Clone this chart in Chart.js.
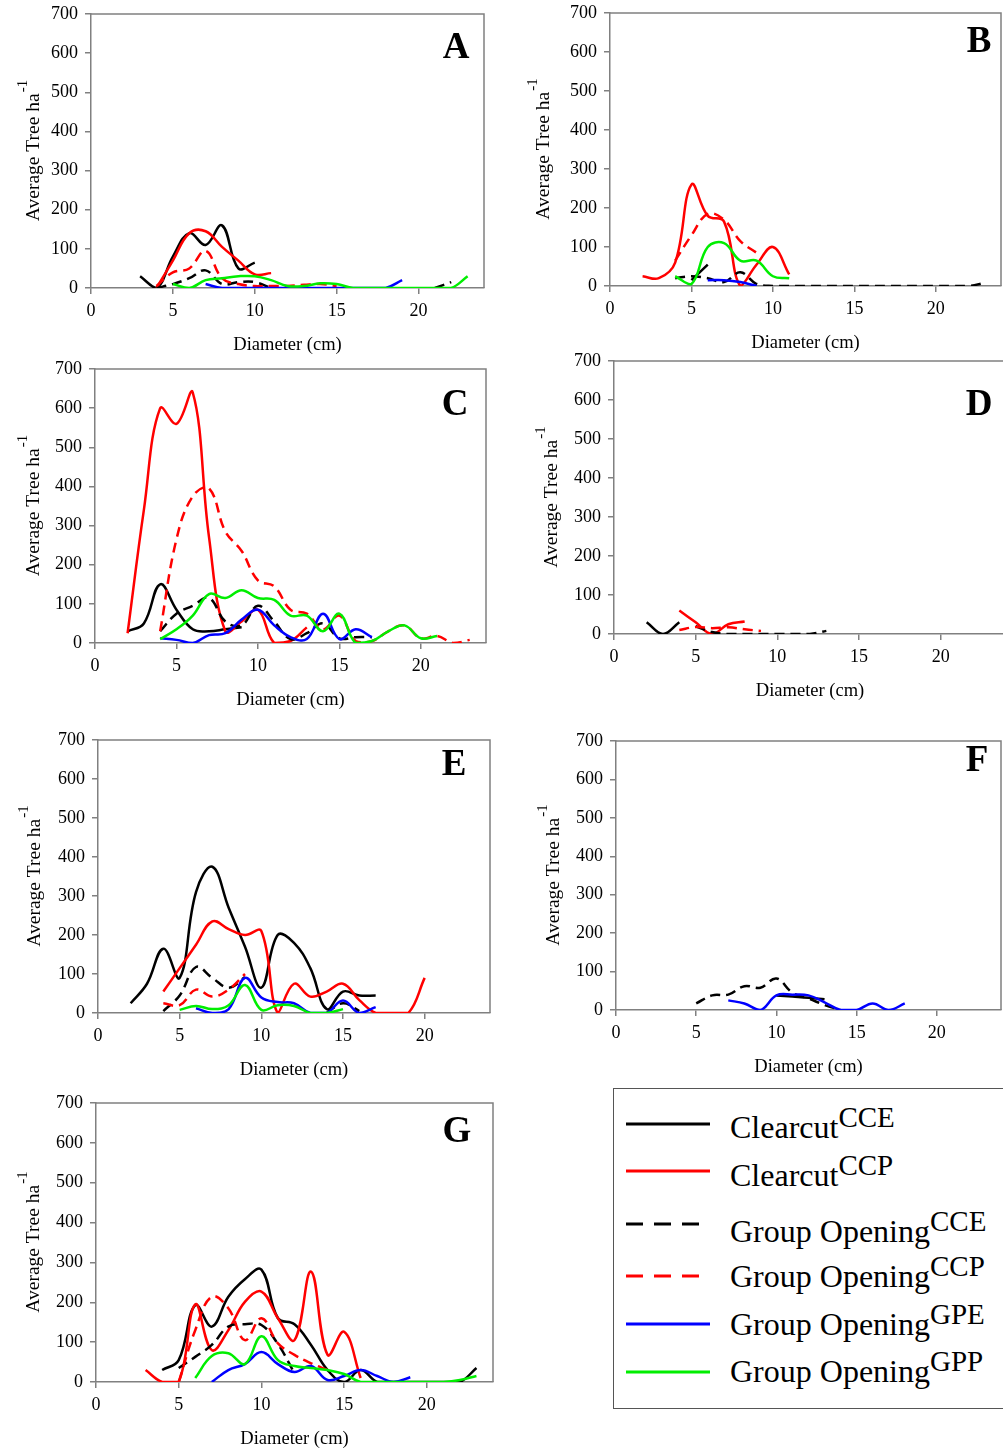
<!DOCTYPE html>
<html>
<head>
<meta charset="utf-8">
<title>Average Tree ha-1 by diameter class</title>
<script src="https://cdn.jsdelivr.net/npm/chart.js@4.4.0/dist/chart.umd.min.js"></script>
<style>
  html, body { margin: 0; padding: 0; background: #fff; overflow: hidden; }
  body { width: 1003px; height: 1451px; position: relative; font-family: "Liberation Serif", "DejaVu Serif", serif; }
  canvas.panel { position: absolute; }
  #legendBox { position: absolute; left: 613px; top: 1088px; border: 1.5px solid #555; box-sizing: border-box; width: 392px; height: 321px; }
  .lg { position: absolute; left: 730px; font-size: 32px; line-height: 32px; white-space: nowrap; color: #000; }
  .lg span { position: relative; top: -11px; font-size: 29px; }
  #legendLines { position: absolute; left: 0; top: 0; }
</style>
</head>
<body>
<div id="legendBox"></div>
<svg id="legendLines" width="1003" height="1451"></svg>

<script>
const _ = null

// diameter classes (cm)
const diameters = [1, 2, 3, 4, 5, 6, 7, 8, 9, 10, 11, 12, 13, 14, 15, 16, 17, 18, 19, 20, 21, 22, 23]
const xTicks = [0, 5, 10, 15, 20]
const yTicks = [0, 100, 200, 300, 400, 500, 600, 700]

const seriesNames = ['Clearcut CCE', 'Clearcut CCP', 'Group Opening CCE', 'Group Opening CCP', 'Group Opening GPE', 'Group Opening GPP']
const seriesMain = ['Clearcut', 'Clearcut', 'Group Opening', 'Group Opening', 'Group Opening', 'Group Opening']
const seriesSup = ['CCE', 'CCP', 'CCE', 'CCP', 'GPE', 'GPP']

// Average Tree ha-1, one value per diameter class (null = no line there)
// panel A
const A_cce   = [_, _, 30, 0, 80, 140, 110, 160, 50, 65, _, _, _, _, _, _, _, _, _, _, _, _, _]
const A_ccp   = [_, _, _, 0, 70, 140, 145, 105, 70, 35, 38, _, _, _, _, _, _, _, _, _, _, _, _]
const A_goCce = [_, _, _, 0, 10, 25, 45, 10, 15, 15, 0, _, _, _, _, _, _, _, _, _, 0, 15, _]
const A_goCcp = [_, _, _, 5, 40, 50, 95, 25, 10, 5, 5, 5, 8, 10, 5, _, _, _, _, _, _, _, _]
const A_gpe   = [_, _, _, _, _, _, 10, 0, 0, 0, 0, 0, 0, 0, 0, 0, 0, 0, 20, _, _, _, _]
const A_gpp   = [_, _, _, _, 10, 0, 20, 25, 30, 30, 20, 5, 5, 12, 10, 0, 0, 0, 0, 0, 0, 0, 30]
// panel B
const B_cce   = [_, _, _, _, 15, 55, _, _, _, _, _, _, _, _, _, _, _, _, _, _, _, _, _]
const B_ccp   = [_, 25, 20, 60, 260, 180, 165, 0, 55, 100, 30, _, _, _, _, _, _, _, _, _, _, _, _]
const B_goCce = [_, _, _, 20, 25, 20, 10, 35, 5, 0, 0, 0, 0, 0, 0, 0, 0, 0, 0, 0, 0, 0, 8]
const B_goCcp = [_, _, _, 65, 130, 185, 170, 115, 85, _, _, _, _, _, _, _, _, _, _, _, _, _, _]
const B_gpe   = [_, _, _, _, _, 15, 15, 10, 0, _, _, _, _, _, _, _, _, _, _, _, _, _, _]
const B_gpp   = [_, _, _, 25, 5, 100, 110, 65, 65, 25, 20, _, _, _, _, _, _, _, _, _, _, _, _]
// panel C
const C_cce   = [_, 30, 50, 150, 85, 35, 30, 35, 40, _, _, _, _, _, _, _, _, _, _, _, _, _, _]
const C_ccp   = [_, 25, 340, 600, 560, 640, 270, 30, 55, 85, 0, 5, 40, _, _, _, _, _, _, _, _, _, _]
const C_goCce = [_, _, _, 30, 75, 95, 115, 55, 45, 95, 55, 10, 25, 50, 12, 15, 15, _, _, _, _, _, _]
const C_goCcp = [_, _, _, 30, 265, 375, 395, 285, 235, 160, 145, 85, 75, 35, 70, 5, 5, 30, 45, 12, 18, 0, 8]
const C_gpe   = [_, _, _, 12, 8, 0, 20, 25, 60, 85, 45, 15, 10, 75, 10, 35, 15, _, _, _, _, _, _]
const C_gpp   = [_, _, _, 10, 35, 70, 125, 115, 135, 115, 110, 70, 70, 30, 75, 0, 5, 30, 45, 12, 18, _, _]
// panel D
const D_cce   = [_, 30, 0, 30, _, _, _, _, _, _, _, _, _, _, _, _, _, _, _, _, _, _, _]
const D_ccp   = [_, _, _, 60, 30, 0, 25, 32, _, _, _, _, _, _, _, _, _, _, _, _, _, _, _]
const D_goCce = [_, _, _, _, 20, 5, 0, 0, 0, 0, 0, 0, 8, _, _, _, _, _, _, _, _, _, _]
const D_goCcp = [_, _, _, 10, 18, 15, 17, 12, 8, _, _, _, _, _, _, _, _, _, _, _, _, _, _]
// panel E
const E_cce   = [_, 25, 75, 165, 90, 310, 375, 270, 170, 65, 200, 180, 115, 10, 55, 45, 45, _, _, _, _, _, _]
const E_ccp   = [_, _, _, 55, 115, 175, 235, 215, 200, 210, 0, 75, 42, 55, 75, 33, 0, 0, 0, 90, _, _, _]
const E_goCce = [_, _, _, 5, 45, 118, 90, 65, 92, _, _, _, _, 0, 25, 5, _, _, _, _, _, _, _]
const E_goCcp = [_, _, _, 25, 20, 60, 42, 60, 100, _, _, _, _, _, _, _, _, _, _, _, _, _, _]
const E_gpe   = [_, _, _, _, _, 12, 0, 10, 90, 40, 28, 25, 0, 0, 32, 0, 15, _, _, _, _, _, _]
const E_gpp   = [_, _, _, _, 8, 18, 10, 20, 72, 8, 20, 18, 0, 0, 10, _, _, _, _, _, _, _, _]
// panel F
const F_cce   = [_, _, _, _, _, _, _, _, _, 38, 35, 32, 28, _, _, _, _, _, _, _, _, _, _]
const F_goCce = [_, _, _, _, 17, 38, 40, 62, 58, 82, 45, 30, 13, 0, _, _, _, _, _, _, _, _, _]
const F_gpe   = [_, _, _, _, _, _, 25, 17, 0, 38, 40, 38, 20, 0, 0, 17, 0, 17, _, _, _, _, _]
// panel G
const G_cce   = [_, _, _, 30, 55, 193, 139, 214, 258, 282, 160, 145, 93, 30, 0, 30, 0, 0, 0, 0, 0, 0, 35]
const G_ccp   = [_, _, 30, 0, 0, 195, 80, 130, 201, 227, 160, 105, 277, 68, 126, 10, _, _, _, _, _, _, _]
const G_goCce = [_, _, _, _, 35, 63, 93, 139, 145, 143, 95, 22, _, _, _, _, _, _, _, _, _, _, _]
const G_goCcp = [_, _, _, _, 0, 130, 214, 185, 105, 160, 97, 68, 47, 30, _, _, _, _, _, _, _, _, _]
const G_gpe   = [_, _, _, _, _, _, 0, 30, 45, 75, 45, 25, 40, 5, 15, 30, 15, 0, 12, _, _, _, _]
const G_gpp   = [_, _, _, _, _, 10, 65, 72, 45, 115, 55, 40, 35, 30, 20, 0, 0, 0, 0, 0, 0, 5, 15]

// line look per series: CCE, CCP, GO CCE, GO CCP, GPE, GPP
const seriesColor = ['#000000', '#ff0000', '#000000', '#ff0000', '#0000ff', '#00ee00']
const seriesDash = [[], [], [10, 6], [10, 6], [], []]

const axisColor = '#808080'
const fontFamily = '"Liberation Serif", "Times New Roman", serif'

// plot rectangles on the page + label spots
const panels = [
    { letter: 'A', left: 91, top: 14, right: 484, bottom: 288, lx: 456, ly: 48, tx: 32,
      series: [A_cce, A_ccp, A_goCce, A_goCcp, A_gpe, A_gpp] },
    { letter: 'B', left: 610, top: 13, right: 1001, bottom: 286, lx: 979, ly: 42, tx: 542,
      series: [B_cce, B_ccp, B_goCce, B_goCcp, B_gpe, B_gpp] },
    { letter: 'C', left: 95, top: 369, right: 486, bottom: 643, lx: 455, ly: 405, tx: 32,
      series: [C_cce, C_ccp, C_goCce, C_goCcp, C_gpe, C_gpp] },
    { letter: 'D', left: 614, top: 361, right: 1006, bottom: 634, lx: 979, ly: 405, tx: 550,
      series: [D_cce, D_ccp, D_goCce, D_goCcp, null, null] },
    { letter: 'E', left: 98, top: 740, right: 490, bottom: 1013, lx: 454, ly: 765, tx: 33,
      series: [E_cce, E_ccp, E_goCce, E_goCcp, E_gpe, E_gpp] },
    { letter: 'F', left: 616, top: 741, right: 1001, bottom: 1010, lx: 977, ly: 761, tx: 552,
      series: [F_cce, null, F_goCce, null, F_gpe, null] },
    { letter: 'G', left: 96, top: 1103, right: 493, bottom: 1382, lx: 457, ly: 1132, tx: 32,
      series: [G_cce, G_ccp, G_goCce, G_goCcp, G_gpe, G_gpp] },
]

const LEFT = 100, TOP = 20, RIGHT = 6, BOTTOM = 80

const framePlugin = {
    id: 'frame',
    afterDraw(chart) {
        const { ctx, chartArea: a } = chart
        const p = chart.options.plugins.frame
        ctx.save()
        // top and right sides of the box
        ctx.strokeStyle = axisColor
        ctx.lineWidth = 1.5
        ctx.beginPath()
        ctx.moveTo(a.left, a.top)
        ctx.lineTo(a.right, a.top)
        ctx.lineTo(a.right, a.bottom)
        ctx.stroke()

        // panel letter
        ctx.fillStyle = '#000'
        ctx.font = 'bold 37px ' + fontFamily
        ctx.textAlign = 'center'
        ctx.textBaseline = 'middle'
        ctx.fillText(p.letter, p.lx - p.canvasLeft, p.ly - p.canvasTop)

        // y title with superscript
        ctx.translate(p.tx - p.canvasLeft, (a.top + a.bottom) / 2)
        ctx.rotate(-Math.PI / 2)
        const main = 'Average Tree ha'
        ctx.font = '19.5px ' + fontFamily
        const w1 = ctx.measureText(main).width
        ctx.font = '15px ' + fontFamily
        const w2 = ctx.measureText('-1').width
        const x0 = -(w1 + w2) / 2
        ctx.textAlign = 'left'
        ctx.textBaseline = 'alphabetic'
        ctx.font = '19.5px ' + fontFamily
        ctx.fillText(main, x0, 7)
        ctx.font = '15px ' + fontFamily
        ctx.fillText('-1', x0 + w1 + 1, -5)
        ctx.restore()
    }
}

function makePanel(p) {
    const plotW = p.right - p.left
    const plotH = p.bottom - p.top
    const canvas = document.createElement('canvas')
    canvas.className = 'panel'
    canvas.width = plotW + LEFT + RIGHT
    canvas.height = plotH + TOP + BOTTOM
    canvas.style.width = canvas.width + 'px'
    canvas.style.height = canvas.height + 'px'
    p.canvasLeft = p.left - LEFT
    p.canvasTop = p.top - TOP
    canvas.style.left = p.canvasLeft + 'px'
    canvas.style.top = p.canvasTop + 'px'
    document.body.appendChild(canvas)

    const datasets = []
    p.series.forEach((vals, i) => {
        if (!vals) return
        datasets.push({
            label: seriesNames[i],
            data: diameters.map((d, k) => ({ x: d, y: vals[k] })),
            borderColor: seriesColor[i],
            borderDash: seriesDash[i],
            borderWidth: 2.5,
            pointRadius: 0,
            tension: 0.4,
            spanGaps: false,
            fill: false,
            order: 6 - i,
        })
    })

    const tickFont = { family: fontFamily, size: 18 }
    new Chart(canvas, {
        type: 'line',
        data: { datasets },
        options: {
            responsive: false,
            animation: false,
            devicePixelRatio: 1,
            layout: { padding: { top: TOP, right: RIGHT, left: 0, bottom: 0 } },
            plugins: {
                legend: { display: false },
                tooltip: { enabled: false },
                frame: p,
            },
            scales: {
                x: {
                    type: 'linear',
                    min: 0,
                    max: 24,
                    afterBuildTicks: s => { s.ticks = xTicks.map(v => ({ value: v })) },
                    afterFit: s => {
                        s.height = BOTTOM
                        s.paddingLeft = 0; s.paddingRight = 0; s.paddingTop = 0; s.paddingBottom = 0
                    },
                    grid: { drawOnChartArea: false, tickLength: 6, color: axisColor, lineWidth: 1.5 },
                    border: { color: axisColor, width: 1.5 },
                    ticks: { font: tickFont, color: '#000', padding: 6, maxRotation: 0 },
                    title: {
                        display: true,
                        text: 'Diameter (cm)',
                        font: { family: fontFamily, size: 18.5 },
                        color: '#000',
                        padding: { top: 0, bottom: 12 },
                    },
                },
                y: {
                    type: 'linear',
                    min: 0,
                    max: 700,
                    afterBuildTicks: s => { s.ticks = yTicks.map(v => ({ value: v })) },
                    afterFit: s => {
                        s.width = LEFT
                        s.paddingLeft = 0; s.paddingRight = 0; s.paddingTop = 0; s.paddingBottom = 0
                    },
                    grid: { drawOnChartArea: false, tickLength: 6, color: axisColor, lineWidth: 1.5 },
                    border: { color: axisColor, width: 1.5 },
                    ticks: { font: tickFont, color: '#000', padding: 7 },
                },
            },
        },
        plugins: [framePlugin],
    })
}

panels.forEach(makePanel)

// legend (HTML, so the superscripts stay real text)
const legendLineY = [1124, 1171, 1224, 1276, 1324, 1372]
const legendBaseY = [1138, 1186, 1242, 1287, 1335, 1382]
const svg = document.getElementById('legendLines')
const legendDash = ['', '', '17 11', '17 11', '', '']
legendLineY.forEach((y, i) => {
    const ln = document.createElementNS('http://www.w3.org/2000/svg', 'line')
    ln.setAttribute('x1', 626)
    ln.setAttribute('x2', i === 2 || i === 3 ? 702 : 710)
    ln.setAttribute('y1', y)
    ln.setAttribute('y2', y)
    ln.setAttribute('stroke', seriesColor[i])
    ln.setAttribute('stroke-width', 3)
    if (legendDash[i]) ln.setAttribute('stroke-dasharray', legendDash[i])
    svg.appendChild(ln)

    const t = document.createElement('div')
    t.className = 'lg'
    t.style.top = (legendBaseY[i] - 27) + 'px'
    t.innerHTML = seriesMain[i] + '<span>' + seriesSup[i] + '</span>'
    document.body.appendChild(t)
})
</script>
</body>
</html>
